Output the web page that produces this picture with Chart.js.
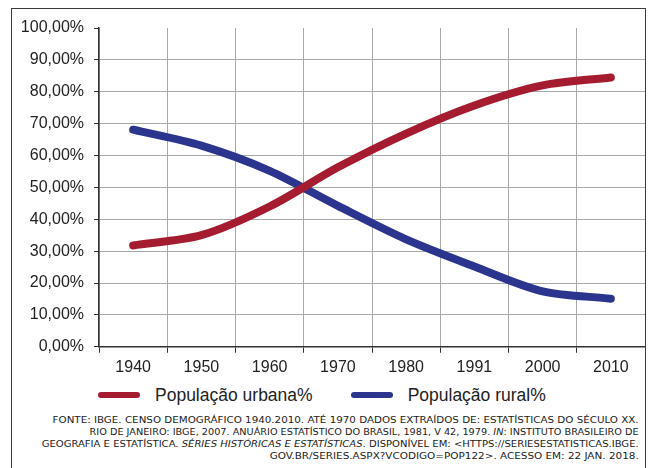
<!DOCTYPE html>
<html>
<head>
<meta charset="utf-8">
<script src="https://cdn.jsdelivr.net/npm/chart.js@4"></script>
<style>
  body { margin: 0; background: #fff; width: 649px; height: 468px; overflow: hidden; position: relative; }
  #frame { position: absolute; left: 11px; top: 8px; width: 633px; height: 480px; border: 1.5px solid #3a3a3a; }
  #wrap { position: absolute; left: 11px; top: 8px; width: 634px; height: 374px; }
  #legend { position: absolute; left: 98px; top: 384px; height: 22px; display: flex; align-items: center; font-family: "Liberation Sans", Arial, sans-serif; font-size: 17.5px; color: #222; white-space: nowrap; }
  #legend .box { width: 42px; height: 6px; border-radius: 3px; margin-right: 15px; }
  #legend .item { display: flex; align-items: center; margin-right: 38px; }
  #source { position: absolute; left: 0; top: 414px; width: 639px; font-family: "DejaVu Sans Condensed", "DejaVu Sans", sans-serif; font-stretch: condensed; font-size: 9.5px; color: #222; }
  #source div { text-align: right; height: 12px; line-height: 12px; white-space: nowrap; }
  #source span.fit { display: inline-block; transform-origin: right center; }
</style>
</head>
<body>
<div id="frame"></div>
<div id="wrap"><canvas id="chart"></canvas></div>
<div id="legend"></div>
<div id="source"></div>
<script>
const years = ["1940", "1950", "1960", "1970", "1980", "1991", "2000", "2010"];
const urbana = [31.8, 35.0, 44.0, 56.3, 66.9, 75.7, 82.0, 84.5];
const rural = [68.1, 63.1, 55.2, 44.2, 33.7, 25.2, 17.4, 15.1];
const seriesNames = ["População urbana%", "População rural%"];
const seriesColors = ["#a51c30", "#2c358e"];

// fonte (texto de rodapé) e larguras
const sourceLines = [
  "FONTE: IBGE. CENSO DEMOGRÁFICO 1940.2010. ATÉ 1970 DADOS EXTRAÍDOS DE: ESTATÍSTICAS DO SÉCULO XX.",
  "RIO DE JANEIRO: IBGE, 2007. ANUÁRIO ESTATÍSTICO DO BRASIL, 1981, V 42, 1979. <i>IN</i>: INSTITUTO BRASILEIRO DE",
  "GEOGRAFIA E ESTATÍSTICA. <i>SÉRIES HISTÓRICAS E ESTATÍSTICAS</i>. DISPONÍVEL EM: &lt;HTTPS://SERIESESTATISTICAS.IBGE.",
  "GOV.BR/SERIES.ASPX?VCODIGO=POP122&gt;. ACESSO EM: 22 JAN. 2018."
];
const sourceWidths = [586, 549, 597, 369];

const src = document.getElementById("source");
sourceLines.forEach((txt, i) => {
  const row = document.createElement("div");
  const s = document.createElement("span");
  s.className = "fit";
  s.innerHTML = txt;
  row.appendChild(s);
  src.appendChild(row);
  const w = s.getBoundingClientRect().width;
  s.style.transform = `scaleX(${sourceWidths[i] / w})`;
});

const ctx = document.getElementById("chart").getContext("2d");

const datasets = [urbana, rural].map((data, i) => ({
  label: seriesNames[i],
  data: data,
  borderColor: seriesColors[i],
  backgroundColor: seriesColors[i],
  borderWidth: 8,
  borderCapStyle: "round",
  borderJoinStyle: "round",
  tension: 0.3,
  pointRadius: 0,
}));

const chart = new Chart(ctx, {
  type: "line",
  data: { labels: years, datasets: datasets },
  options: {
    responsive: true,
    maintainAspectRatio: false,
    animation: false,
    layout: { padding: { top: 20, right: 0, left: 0, bottom: 0 } },
    scales: {
      x: {
        offset: true,
        grid: { offset: true, color: "#a8a8a8", lineWidth: 1, tickColor: "#333", tickLength: 6 },
        border: { color: "#333", width: 1.5 },
        ticks: { color: "#222", font: { family: "Liberation Sans", size: 16 }, padding: 5 },
      },
      y: {
        min: 0,
        max: 100,
        afterFit: (s) => { s.width = 88; },
        grid: {
          color: (c) => (c.tick && c.tick.value === 100 ? "rgba(0,0,0,0)" : "#a8a8a8"),
          lineWidth: 1,
          tickColor: "#333",
          tickLength: 5,
        },
        border: { color: "#333", width: 1.5 },
        ticks: {
          stepSize: 10,
          color: "#222",
          font: { family: "Liberation Sans", size: 16 },
          padding: 10,
          callback: (v) => v.toFixed(2).replace(".", ",") + "%",
        },
      },
    },
    plugins: {
      tooltip: { enabled: false },
      legend: { display: false },
    },
  },
});

// legenda em HTML a partir dos datasets
const legendEl = document.getElementById("legend");
Chart.defaults.plugins.legend.labels.generateLabels(chart).forEach((it) => {
  const item = document.createElement("div");
  item.className = "item";
  item.innerHTML = `<span class="box" style="background:${it.fillStyle}"></span><span>${it.text}</span>`;
  legendEl.appendChild(item);
});
</script>
</body>
</html>
